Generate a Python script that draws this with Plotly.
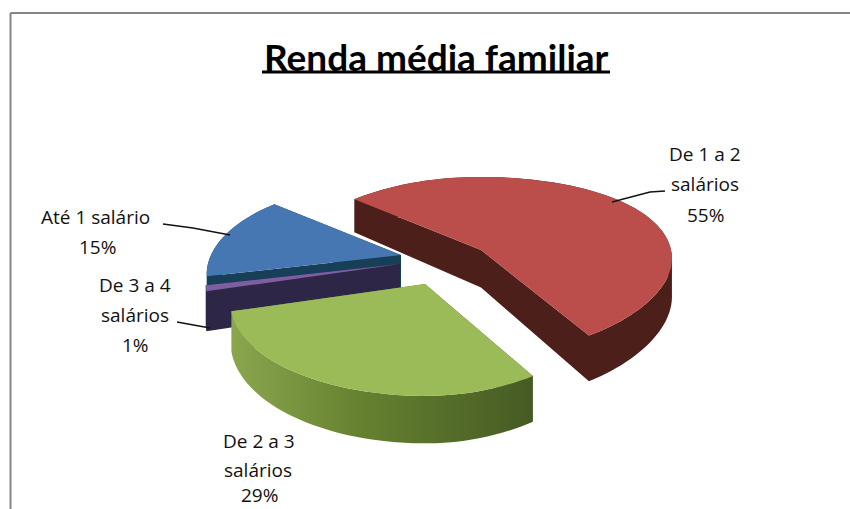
import math
import plotly.graph_objects as go

# --- data ---
categories = ["Até 1 salário", "De 1 a 2 salários", "De 2 a 3 salários", "De 3 a 4 salários"]
values = [15, 55, 29, 1]
label_lines = [["Até 1 salário", "15%"], ["De 1 a 2", "salários", "55%"],
               ["De 2 a 3", "salários", "29%"], ["De 3 a 4", "salários", "1%"]]
title_text = "Renda média familiar"

# --- style / layout ---
top_colors = ["#4677b2", "#bb4d4a", "#9bbb59", "#7d5ea3"]
wall_colors = ["#173f57", "#4c1f1b", None, "#2d2646"]
green_wall = [[0, "#8aa64e"], [0.45, "#64802f"], [1, "#465a24"]]
label_xy = [[(95, 217), (97, 247)], [(705, 154), (705, 184), (705, 215)],
            [(259, 441), (258, 470), (259, 495)], [(135, 285), (135, 315), (135, 345)]]
apex_xy = [(401, 255), (481, 250), (425, 284), (400, 264)]
front_squash = [1, 0.93, 1, 1]
leaders = [[(163, 224), (193, 228), (230, 235)], [(612, 202), (650, 192), (665, 191)], None,
           [(177, 322), (210, 328)]]
START_ANGLE = 256.7
RX, RY, PERSP, PERSP_RIGHT, DEPTH = 190, 88.4, 0.21, 0.1, 37.5
FONT = "Open Sans"


def project(apex, deg, squash):
    t = math.radians(deg)
    u, v = math.sin(t), -math.cos(t)
    s = 1 / (1 - PERSP * v)
    sx = s if u < 0 else 1 / (1 - PERSP_RIGHT * v)
    sy = squash if v > 0 else 1
    return apex[0] + RX * u * sx, apex[1] + RY * v * s * sy, DEPTH * s


def slice_outline(apex, a0, a1, squash):
    n = max(2, int((a1 - a0) / 2))
    pts = [(apex[0], apex[1], DEPTH)]
    pts += [project(apex, a0 + (a1 - a0) * i / n, squash) for i in range(n + 1)]
    return pts


def wall_path(pts):
    xs, ys = [], []
    for i in range(len(pts)):
        p, q = pts[i], pts[(i + 1) % len(pts)]
        quad = [(p[0], p[1]), (q[0], q[1]), (q[0], q[1] + q[2]), (p[0], p[1] + p[2])]
        area = sum(quad[j][0] * quad[(j + 1) % 4][1] - quad[(j + 1) % 4][0] * quad[j][1] for j in range(4))
        if area < 0:
            quad.reverse()
        xs += [c[0] for c in quad] + [quad[0][0], None]
        ys += [c[1] for c in quad] + [quad[0][1], None]
    return xs, ys


total = sum(values)
angles = []
cur = START_ANGLE
for val in values:
    angles.append((cur, cur + val / total * 360))
    cur += val / total * 360

fig = go.Figure()
for i in [1, 0, 3, 2]:
    pts = slice_outline(apex_xy[i], angles[i][0], angles[i][1], front_squash[i])
    wx, wy = wall_path(pts)
    wall = dict(x=wx, y=wy, mode="none", fill="toself", hoverinfo="skip", showlegend=False)
    if wall_colors[i]:
        wall["fillcolor"] = wall_colors[i]
    else:
        wall["fillgradient"] = dict(type="horizontal", colorscale=green_wall)
    fig.add_trace(go.Scatter(**wall))
    fig.add_trace(go.Scatter(x=[p[0] for p in pts] + [pts[0][0]], y=[p[1] for p in pts] + [pts[0][1]],
                             mode="none", fill="toself", fillcolor=top_colors[i],
                             name=categories[i], showlegend=False))

for path in leaders:
    if path:
        fig.add_trace(go.Scatter(x=[p[0] for p in path], y=[p[1] for p in path], mode="lines",
                                 line=dict(color="#111111", width=1.3), hoverinfo="skip", showlegend=False))

annotations = []
for lines, xy in zip(label_lines, label_xy):
    for text, (x, y) in zip(lines, xy):
        annotations.append(dict(x=x, y=y, text=text, showarrow=False, xanchor="center", yanchor="middle",
                                font=dict(family=FONT, size=19, color="#111111")))
annotations.append(dict(x=436, y=56, text=title_text, showarrow=False, xanchor="center", yanchor="middle",
                        font=dict(family="Lato", size=37, color="#000000", weight=700)))

shapes = [
    dict(type="line", x0=262, x1=610, y0=72, y1=72, line=dict(color="#000000", width=3)),
    dict(type="line", x0=850, x1=10.5, y0=13, y1=13, line=dict(color="#858585", width=2)),
    dict(type="line", x0=10.5, x1=10.5, y0=13, y1=509, line=dict(color="#858585", width=2)),
]

fig.update_layout(
    width=850, height=509, margin=dict(l=0, r=0, t=0, b=0),
    paper_bgcolor="#ffffff", plot_bgcolor="#ffffff", showlegend=False,
    xaxis=dict(range=[0, 850], visible=False, fixedrange=True),
    yaxis=dict(range=[509, 0], visible=False, fixedrange=True),
    annotations=annotations, shapes=shapes,
)
fig.write_html("out.html", config=dict(displayModeBar=False),
               post_script="document.body.style.margin='0';document.documentElement.style.overflow='hidden';")
